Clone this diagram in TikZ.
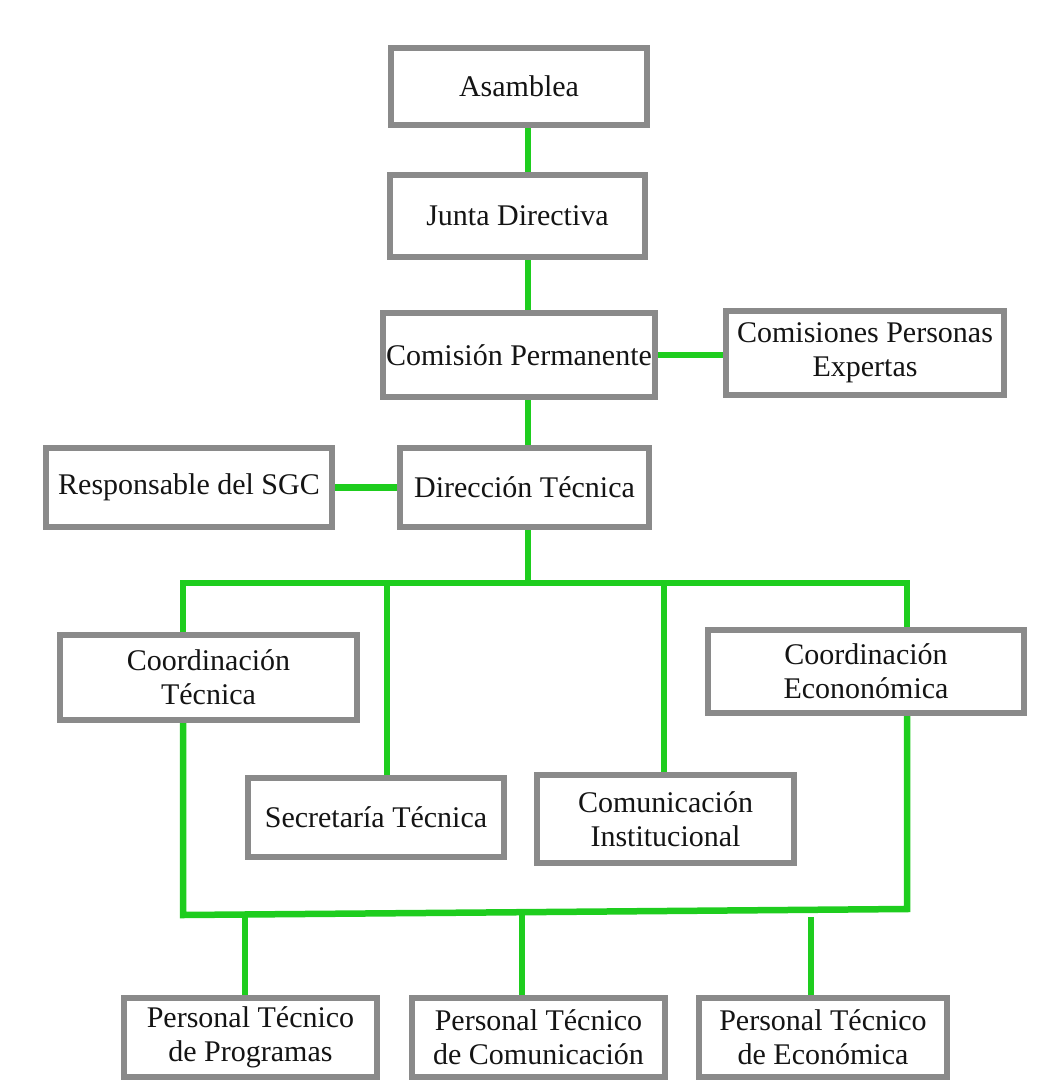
\documentclass[tikz,border=0pt]{standalone}
\usepackage{fontspec}
\setmainfont{Liberation Serif}
\definecolor{boxgray}{RGB}{138,138,138}
\definecolor{lgreen}{RGB}{30,205,30}
\begin{document}
\begin{tikzpicture}[x=1pt,y=-1pt,
  box/.style={draw=boxgray, line width=6pt, fill=white, align=center, inner sep=0pt,
    font=\fontsize{30}{34}\selectfont, text=black!92},
  link/.style={draw=lgreen, line width=6.5pt}]
\useasboundingbox (0,0) rectangle (1051,1084);
% boxes
\node[box, minimum width=256pt, minimum height=77pt] (asm) at (519,86.5) {Asamblea};
\node[box, minimum width=255pt, minimum height=82pt] (junta) at (517.5,216) {Junta Directiva};
\node[box, minimum width=272pt, minimum height=84pt] (cp) at (519,355) {Comisión Permanente};
\node[box, minimum width=278pt, minimum height=84pt] (cpe) at (865,353) {Comisiones Personas\\Expertas};
\node[box, minimum width=286pt, minimum height=79pt] (resp) at (189,487.5) {Responsable del SGC};
\node[box, minimum width=249pt, minimum height=79pt] (dir) at (524.5,487.5) {Dirección Técnica};
\node[box, minimum width=297pt, minimum height=85pt] (ct) at (208.5,677.5) {Coordinación\\Técnica};
\node[box, minimum width=316pt, minimum height=83pt] (ce) at (866,671.5) {Coordinación\\Econonómica};
\node[box, minimum width=256pt, minimum height=79pt] (sec) at (376,817.5) {Secretaría Técnica};
\node[box, minimum width=257pt, minimum height=88pt] (com) at (665.5,819) {Comunicación\\Institucional};
\node[box, minimum width=253pt, minimum height=79pt] (p1) at (250.5,1037.5) {Personal Técnico\\de Programas};
\node[box, minimum width=253pt, minimum height=79pt] (p2) at (538.5,1037.5) {Personal Técnico\\de Comunicación};
\node[box, minimum width=248pt, minimum height=79pt] (p3) at (823,1037.5) {Personal Técnico\\de Económica};
% helper coordinates
\coordinate (sp) at (528,0);
\coordinate (bus1) at (183,583);
\coordinate (bus2) at (907,583);
\coordinate (c3) at (387,583);
\coordinate (c4) at (664,583);
\coordinate (lb1) at (183,915);
\coordinate (lb2) at (907,909);
\coordinate (d1) at (245,914);
\coordinate (d2) at (522,912);
\coordinate (d3) at (811,917);
% connectors
\draw[link] (asm.south -| sp) -- (junta.north -| sp);
\draw[link] (junta.south -| sp) -- (cp.north -| sp);
\draw[link] (cp.south -| sp) -- (dir.north -| sp);
\draw[link] (cp.east) -- (cp.east -| cpe.west);
\draw[link] (resp.east) -- (dir.west);
\draw[link] (dir.south -| sp) -- (sp |- bus1);
\draw[link] (ct.north -| bus1) -- (bus1) -- (bus2) -- (ce.north -| bus2);
\draw[link] (c3) -- (sec.north -| c3);
\draw[link] (c4) -- (com.north -| c4);
\draw[link] (ct.south -| lb1) -- (lb1) -- (lb2) -- (ce.south -| lb2);
\draw[link] (d1) -- (p1.north -| d1);
\draw[link] (d2) -- (p2.north -| d2);
\draw[link] (d3) -- (p3.north -| d3);
\end{tikzpicture}
\end{document}
